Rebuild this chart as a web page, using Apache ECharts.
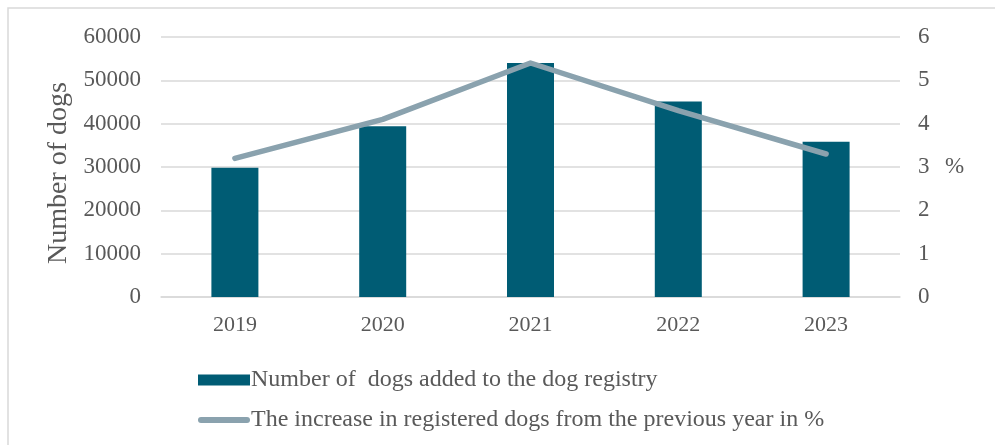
<!DOCTYPE html>
<html>
<head>
<meta charset="utf-8">
<script src="https://cdn.jsdelivr.net/npm/echarts@6/dist/echarts.min.js"></script>
<style>
  html, body { margin: 0; padding: 0; background: #fff; }
  #chart { width: 995px; height: 445px; }
</style>
</head>
<body>
<div id="chart"></div>
<script>
// Yearly figures for the dog registry
const years = ['2019', '2020', '2021', '2022', '2023'];
const dogsAdded = [29800, 39400, 54000, 45100, 35800];
const increasePct = [3.2, 4.1, 5.4, 4.3, 3.3];
const leftTicks = { min: 0, max: 60000, step: 10000 };
const rightTicks = { min: 0, max: 6, step: 1 };

const barName = 'Number of  dogs added to the dog registry';
const lineName = 'The increase in registered dogs from the previous year in %';

const FONT = '"Liberation Serif", "Times New Roman", serif';
const TEXT = '#595959';
const GRID_LINE = '#d9d9d9';
const BAR_COLOR = '#005c74';
const LINE_COLOR = '#8aa2ae';

// thick line with rounded ends, used as the legend swatch for the line series
const lineIcon = 'path://M3,0 L49,0 A3,3 0 0 1 49,6 L3,6 A3,3 0 0 1 3,0 Z';

const chart = echarts.init(document.getElementById('chart'), null, { renderer: 'canvas' });

chart.setOption({
  animation: false,
  backgroundColor: '#ffffff',
  textStyle: { fontFamily: FONT, color: TEXT },
  graphic: [{
    type: 'rect',
    shape: { x: 8, y: 8, width: 1000, height: 450 },
    style: { fill: 'none', stroke: '#d9d9d9', lineWidth: 1.5 },
    silent: true,
    z: -1
  }],
  grid: { left: 161, right: 95, top: 37, bottom: 148 },
  legend: {
    orient: 'vertical',
    left: 193,
    top: 363,
    itemWidth: 52,
    itemHeight: 11,
    itemGap: 16,
    textStyle: { fontFamily: FONT, fontSize: 24, color: TEXT, padding: [0, 0, 0, -4] },
    data: [
      { name: barName, icon: 'rect', itemStyle: { color: BAR_COLOR } },
      { name: lineName, icon: lineIcon, itemStyle: { color: LINE_COLOR } }
    ]
  },
  xAxis: {
    type: 'category',
    data: years,
    axisTick: { show: false },
    axisLine: { show: true, lineStyle: { color: GRID_LINE, width: 1.5 } },
    axisLabel: { fontFamily: FONT, fontSize: 22, color: TEXT, margin: 17 }
  },
  yAxis: [
    {
      type: 'value',
      min: leftTicks.min,
      max: leftTicks.max,
      interval: leftTicks.step,
      name: 'Number of dogs',
      nameLocation: 'middle',
      nameGap: 88,
      nameRotate: 90,
      nameTextStyle: { fontFamily: FONT, fontSize: 28, color: TEXT, padding: [0, 12, 0, 0] },
      axisLine: { show: false },
      axisTick: { show: false },
      axisLabel: {
        fontFamily: FONT, fontSize: 23, color: TEXT, margin: 20,
        formatter: (v) => String(v)
      },
      splitLine: { show: true, lineStyle: { color: GRID_LINE, width: 1.5 } }
    },
    {
      type: 'value',
      min: rightTicks.min,
      max: rightTicks.max,
      interval: rightTicks.step,
      position: 'right',
      name: '%',
      nameLocation: 'middle',
      nameGap: 45,
      nameRotate: 0,
      nameTextStyle: { fontFamily: FONT, fontSize: 23, color: TEXT, align: 'left' },
      axisLine: { show: false },
      axisTick: { show: false },
      axisLabel: { fontFamily: FONT, fontSize: 23, color: TEXT, margin: 18 },
      splitLine: { show: false }
    }
  ],
  series: [
    {
      name: barName,
      type: 'bar',
      data: dogsAdded,
      barWidth: 47,
      itemStyle: { color: BAR_COLOR },
      z: 2
    },
    {
      name: lineName,
      type: 'line',
      yAxisIndex: 1,
      data: increasePct,
      symbol: 'none',
      lineStyle: { color: LINE_COLOR, width: 5.5, cap: 'round', join: 'round' },
      itemStyle: { color: LINE_COLOR },
      z: 3
    }
  ]
});
</script>
</body>
</html>
